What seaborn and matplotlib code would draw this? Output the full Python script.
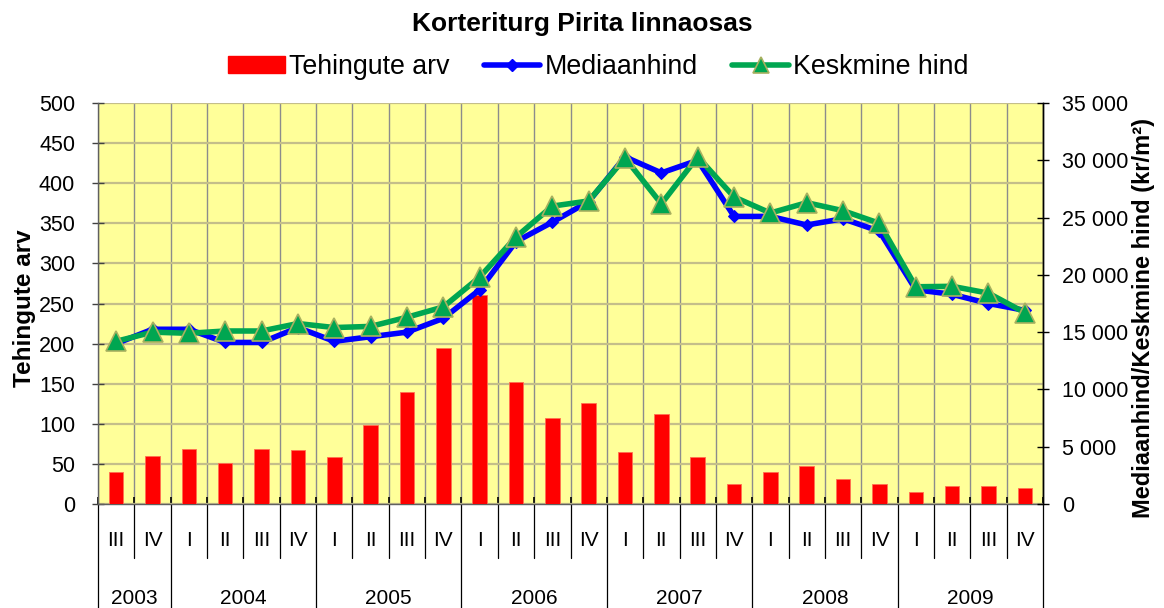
import numpy as np
import pandas as pd
import matplotlib
matplotlib.use("Agg")
import matplotlib.pyplot as plt
import matplotlib.transforms as mtransforms
from matplotlib.lines import Line2D
from matplotlib.patches import Patch
from matplotlib.ticker import FuncFormatter, MultipleLocator
import seaborn as sns

# Quarterly apartment market data, Pirita district
quarters = ["III", "IV"] + ["I", "II", "III", "IV"] * 6
years = ["2003", "2004", "2005", "2006", "2007", "2008", "2009"]
quarters_per_year = [2, 4, 4, 4, 4, 4, 4]

tehingute_arv = [40, 60, 68, 51, 69, 67, 59, 99, 140, 194,
                 260, 152, 107, 126, 65, 112, 58, 25,
                 40, 47, 31, 25, 15, 23, 23, 20]
mediaanhind = [14000, 15250, 15250, 14100, 14100, 15400, 14200, 14600, 15000, 16200,
               18700, 22900, 24600, 26400, 30300, 28900, 30000, 25100,
               25100, 24350, 24900, 23800, 18700, 18300, 17500, 16900]
keskmine_hind = [14200, 15000, 14900, 15100, 15100, 15750, 15400, 15500, 16300, 17200,
                 19800, 23300, 26000, 26450, 30200, 26200, 30300, 26800,
                 25400, 26300, 25600, 24500, 18960, 19000, 18400, 16700]

title = "Korteriturg Pirita linnaosas"
left_label = "Tehingute arv"
right_label = "Mediaanhind/Keskmine hind (kr/m²)"
series_names = ["Tehingute arv", "Mediaanhind", "Keskmine hind"]

sns.set_theme(style="white")
plt.rcParams["font.family"] = ["Liberation Sans", "DejaVu Sans"]
plt.rcParams["text.color"] = "black"
plt.rcParams["axes.labelcolor"] = "black"

BG = "#FFFF99"
RED = "#FF0000"
BLUE = "#0000FF"
GREEN = "#00A651"
TRI_EDGE = "#A8B060"

n = len(quarters)
pos = np.arange(n)
df = pd.DataFrame({
    "pos": pos,
    "tehingud": tehingute_arv,
    "mediaan": mediaanhind,
    "keskmine": keskmine_hind,
})

fig = plt.figure(figsize=(11.64, 6.08), dpi=100)
ax = fig.add_axes([98 / 1164, 1 - 504 / 608, (1043 - 98) / 1164, (504 - 103) / 608])
ax.set_facecolor(BG)

# Transaction counts as bars on the left axis
sns.barplot(data=df, x="pos", y="tehingud", ax=ax, color=RED, width=0.40,
            saturation=1, edgecolor="#FF7050", linewidth=0.6, zorder=3)

ax.set_xlim(-0.5, n - 0.5)
ax.set_ylim(0, 500)
ax.yaxis.set_major_locator(MultipleLocator(50))
ax.set_xticks(np.arange(n + 1) - 0.5)
ax.set_xticklabels([])
ax.set_xlabel("")
ax.set_ylabel(left_label, fontsize=17.5, fontweight="bold", color="black")
ax.yaxis.set_label_coords(-0.066, 0.489)
ax.set_axisbelow(True)
ax.grid(axis="y", color="#C4BE8A", linewidth=1.6)
ax.grid(axis="x", color="#8C8C8C", linewidth=1.0)
ax.tick_params(axis="y", direction="inout", length=9, width=1.0, color="#404040",
               labelsize=15.5, pad=12, left=True, labelcolor="black")
ax.tick_params(axis="x", direction="in", length=5, width=1.2, color="black", bottom=True)
ax.spines["top"].set_visible(False)
ax.spines["left"].set_color("#606060")
ax.spines["bottom"].set_color("#606060")
ax.spines["right"].set_color("black")
for s in ax.spines.values():
    s.set_linewidth(1.0)

# Prices on the right axis
ax2 = ax.twinx()
sns.lineplot(data=df, x="pos", y="mediaan", ax=ax2, color=BLUE, linewidth=4,
             marker="D", markersize=6, markeredgecolor=BLUE, zorder=4)
sns.lineplot(data=df, x="pos", y="keskmine", ax=ax2, color=GREEN, linewidth=4,
             marker="^", markersize=14, markerfacecolor=GREEN,
             markeredgecolor=TRI_EDGE, markeredgewidth=1.2, zorder=5)
ax2.set_ylim(0, 35000)
ax2.set_xlim(-0.5, n - 0.5)
ax2.yaxis.set_major_locator(MultipleLocator(5000))
ax2.yaxis.set_major_formatter(FuncFormatter(lambda v, p: f"{v:,.0f}".replace(",", " ")))
ax2.tick_params(axis="y", direction="inout", length=9, width=1.0, color="black",
                labelsize=15.5, pad=9, right=True, labelcolor="black")
ax2.set_ylabel(right_label, fontsize=17, fontweight="bold", color="black")
ax2.yaxis.set_label_coords(1.094, 0.465)
ax2.set_xlabel("")
ax2.grid(False)
for s in ax2.spines.values():
    s.set_visible(False)
ax2.spines["right"].set_visible(True)
ax2.spines["right"].set_color("black")
ax2.spines["right"].set_linewidth(1.0)
if ax2.get_legend() is not None:
    ax2.get_legend().remove()

# Two-level category axis: quarters and years with separators
trans = mtransforms.blended_transform_factory(ax.transData, ax.transAxes)
for i, q in enumerate(quarters):
    ax.text(i, -0.092, q, transform=trans, ha="center", va="center",
            fontsize=15, color="black")
bounds = np.concatenate([[0], np.cumsum(quarters_per_year)])
year_edges = set(bounds.tolist())
for b in range(n + 1):
    y_end = -0.30 if b in year_edges else -0.135
    ax.add_line(Line2D([b - 0.5, b - 0.5], [0, y_end], transform=trans,
                       color="black", linewidth=0.9, clip_on=False))
for k, yr in enumerate(years):
    center = (bounds[k] + bounds[k + 1] - 1) / 2
    ax.text(center, -0.235, yr, transform=trans, ha="center", va="center",
            fontsize=15, color="black")

fig.text(0.5, 1 - 24 / 608, title, ha="center", va="center",
         fontsize=19, fontweight="bold", color="black")

handles = [
    Patch(facecolor=RED, edgecolor=RED),
    Line2D([], [], color=BLUE, linewidth=4, marker="D", markersize=6),
    Line2D([], [], color=GREEN, linewidth=4, marker="^", markersize=12,
           markerfacecolor=GREEN, markeredgecolor=TRI_EDGE, markeredgewidth=1.2),
]
fig.legend(handles, series_names, loc="center", bbox_to_anchor=(0.514, 1 - 67 / 608),
           ncol=3, frameon=False, fontsize=19.3, handlelength=2.1, handleheight=0.55,
           handletextpad=0.15, columnspacing=1.3, borderaxespad=0, labelcolor="black")

fig.savefig("out.png", dpi=100)
